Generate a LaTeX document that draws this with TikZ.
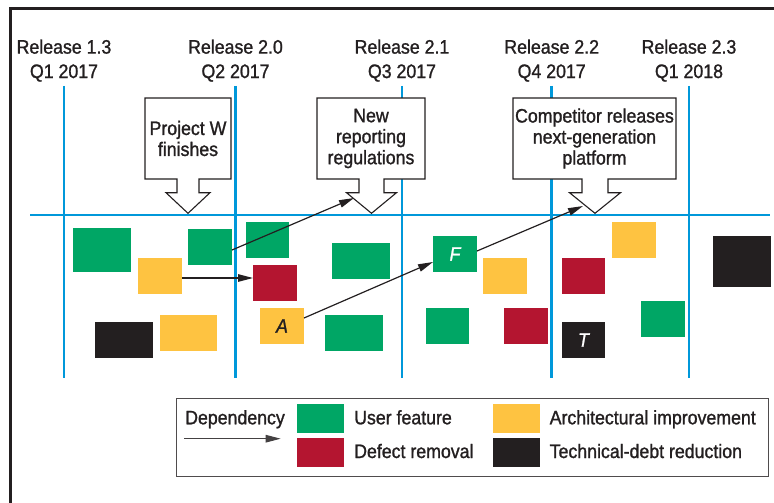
\documentclass[tikz,border=0pt]{standalone}
\usepackage{fontspec}
\setmainfont[FakeStretch=0.91,FakeBold=1.2]{Liberation Sans}
\usetikzlibrary{arrows.meta}

\definecolor{uf}{RGB}{0,166,101}   % user feature
\definecolor{ai}{RGB}{254,195,65}  % architectural improvement
\definecolor{dr}{RGB}{180,21,48}   % defect removal
\definecolor{td}{RGB}{35,31,32}    % technical-debt reduction
\definecolor{rel}{RGB}{0,152,218}  % release grid
\definecolor{ink}{RGB}{35,31,32}

\tikzset{
  card/.style={inner sep=0pt, outer sep=0pt, anchor=north west,
               minimum width=44pt, minimum height=36pt,
               font=\fontsize{19.5}{21}\selectfont\itshape},
  wide/.style={card, minimum width=58pt},
  grid/.style={rel, line width=2.6pt},
  lbl/.style={ink, align=center, inner sep=0pt, anchor=north,
              font=\fontsize{19.5}{24.4}\selectfont},
  note/.style={ink, align=center, inner sep=0pt,
               font=\fontsize{19.5}{21}\selectfont},
  txt/.style={ink, inner sep=0pt, anchor=base west,
              font=\fontsize{19.5}{21}\selectfont},
  callout/.style={draw=ink, fill=white, line width=1.1pt, line join=miter},
  dep/.style={ink, line width=1.2pt, -{Triangle[length=15pt,width=7.5pt]}},
}

% callout box with a hollow arrow hanging below it:
% #1 left, #2 right, #3 top, #4 bottom, #5 arrow axis, #6 stem half width, #7 head half width
\newcommand\calloutbox[7]{%
  \draw[callout] (#1,#3) -- (#2,#3) -- (#2,#4) -- ({#5+#6},#4) -- ({#5+#6},{#4+13.7})
    -- ({#5+#7},{#4+13.7}) -- (#5,{#4+34.3}) -- ({#5-#7},{#4+13.7})
    -- ({#5-#6},{#4+13.7}) -- ({#5-#6},#4) -- (#1,#4) -- cycle;}

\begin{document}
\begin{tikzpicture}[x=1pt,y=-1pt]
\useasboundingbox (0,0) rectangle (774,503);

% outer frame
\draw[ink, line width=2.5pt] (10.5,503) -- (10.5,8.5) -- (774,8.5);

% release grid
\foreach \x in {64,235.5,402,551.7,689}
  \draw[grid] (\x,86) -- (\x,378);
\draw[rel, line width=2.8pt] (30,215) -- (770,215);

% release labels
\node[lbl] (r13) at (64,39.3)    {Release 1.3\\Q1 2017};
\node[lbl] (r20) at (235.5,39.3) {Release 2.0\\Q2 2017};
\node[lbl] (r21) at (402,39.3)   {Release 2.1\\Q3 2017};
\node[lbl] (r22) at (551.7,39.3) {Release 2.2\\Q4 2017};
\node[lbl] (r23) at (689,39.3)   {Release 2.3\\Q1 2018};

% external events
\calloutbox{145}{231}{98}{179}{188}{11}{22}
\node[note] (pw) at (188,138.5) {Project W\\finishes};
\calloutbox{317}{425}{98}{179}{371.5}{12.5}{25}
\node[note] (nr) at (371,138.5) {New\\reporting\\regulations};
\calloutbox{513}{676}{98}{179}{595}{13}{25.5}
\node[note] (cr) at (594.5,138.5) {Competitor releases\\next-generation\\platform};

% work items
\node[card, fill=uf, minimum width=58pt, minimum height=44pt] (g1) at (73,228) {};
\node[card, fill=ai] (y2) at (138,258) {};
\node[card, fill=uf] (g3) at (188,229) {};
\node[card, fill=uf, minimum width=43pt] (g4) at (246,222) {};
\node[card, fill=dr] (r5) at (253,265) {};
\node[card, fill=ai, text=ink] (a6) at (260,308) {A};
\node[wide, fill=uf] (g7) at (332,243) {};
\node[wide, fill=uf] (g8) at (325,315) {};
\node[wide, fill=td] (k9) at (95,322) {};
\node[wide, fill=ai, minimum width=57pt] (y10) at (160,315) {};
\node[card, fill=uf, text=white] (f11) at (433,236) {F};
\node[card, fill=ai] (y12) at (483,258) {};
\node[card, fill=uf, minimum width=43pt] (g13) at (426,308) {};
\node[card, fill=dr] (r14) at (504,308) {};
\node[card, fill=dr, minimum width=43pt] (r15) at (562,258) {};
\node[card, fill=td, text=white, minimum width=43pt] (t16) at (562,322) {T};
\node[card, fill=ai] (y17) at (612,222) {};
\node[card, fill=uf] (g18) at (641,301) {};
\node[wide, fill=td, minimum height=51pt] (k19) at (713,236) {};

% dependencies
\coordinate (nrhit) at (354,198);
\coordinate (crhit) at (583,206);
\draw[dep] ([yshift=-3pt]g3.east) -- (nrhit);
\draw[dep] ([yshift=-2pt]y2.east) -- ([yshift=-2pt]y2.east -| r5.west);
\draw[dep] ([yshift=8pt]a6.east) -- ([yshift=-8pt]f11.west);
\draw[dep] ([yshift=3pt]f11.east) -- (crhit);

% legend
\node[draw=ink!80, line width=1.3pt, fill=white, inner sep=0pt, anchor=north west,
      minimum width=592pt, minimum height=78pt] (legend) at (176,397.7) {};
\node[txt] (depl) at (185,424.3) {Dependency};
\coordinate (dep0) at (184,438.7);
\coordinate (dep1) at (280.7,438.7);
\draw[dep, ink!85] (dep0) -- (dep1);
\node[card, fill=uf, minimum width=47pt, minimum height=29pt] (lg) at (297,404) {};
\node[card, fill=dr, minimum width=47pt, minimum height=29pt] (lr) at (297,438) {};
\node[card, fill=ai, minimum width=47pt, minimum height=29pt] (ly) at (493,404) {};
\node[card, fill=td, minimum width=47pt, minimum height=29pt] (lk) at (493,438) {};
\node[txt] (lgt) at (354,424.3) {User feature};
\node[txt] (lrt) at (354,458)   {Defect removal};
\node[txt] (lyt) at (549.5,424.3) {Architectural improvement};
\node[txt] (lkt) at (549.5,458)   {Technical-debt reduction};
\end{tikzpicture}
\end{document}
